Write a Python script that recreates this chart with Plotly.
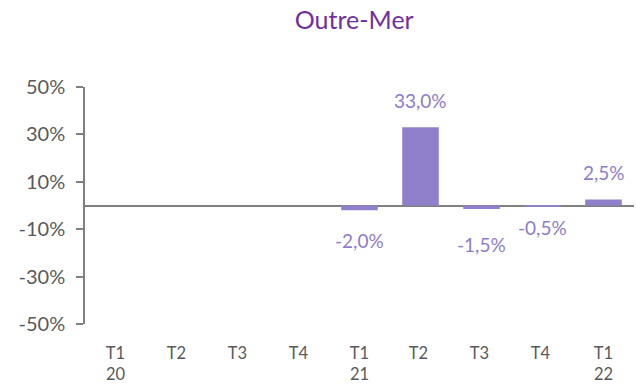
import plotly.graph_objects as go

# Quarterly change, Outre-Mer
quarters = ["T1<br>20", "T2", "T3", "T4", "T1<br>21", "T2 ", "T3 ", "T4 ", "T1<br>22"]
values = [None, None, None, None, -2.0, 33.0, -1.5, -0.5, 2.5]
y_ticks = [50, 30, 10, -10, -30, -50]

bar_color = "#9080CC"
label_color = "#8E7CCB"
axis_gray = "#808080"
text_gray = "#595959"
font_family = "Lato, 'Open Sans', sans-serif"

# vertical nudge (px) of the negative value labels
neg_label_shift = {4: -30, 6: -35, 7: -21}

fig = go.Figure(
    go.Bar(
        x=quarters,
        y=values,
        marker=dict(color=bar_color, line=dict(width=0)),
        width=0.6,
        hoverinfo="skip",
    )
)

# value labels, French decimal comma
for i, (q, v) in enumerate(zip(quarters, values)):
    if v is None:
        continue
    txt = f"{v:.1f}".replace(".", ",") + "%"
    fig.add_annotation(
        x=q, y=v, text=txt, showarrow=False,
        yshift=27 if v >= 0 else neg_label_shift.get(i, -30),
        font=dict(family=font_family, size=19, color=label_color),
    )

fig.update_layout(
    width=636, height=385,
    margin=dict(l=85, r=2, t=87, b=61),
    paper_bgcolor="white", plot_bgcolor="white",
    showlegend=False,
    bargap=0.4,
    title=dict(
        text="Outre-Mer", x=0.557, xanchor="center", y=0.948, yanchor="middle",
        font=dict(family=font_family, size=25, color="#7030A0"),
    ),
    font=dict(family=font_family, size=17, color=text_gray),
)

fig.update_xaxes(
    type="category", categoryorder="array", categoryarray=quarters,
    showline=False, showgrid=False, zeroline=False, ticks="",
    ticklabelstandoff=17, automargin=False,
    tickfont=dict(family=font_family, size=16.5, color=text_gray),
)

fig.update_yaxes(
    range=[-50, 50], tickvals=y_ticks,
    ticktext=[f"{t}%" for t in y_ticks],
    showgrid=False, showline=True, linecolor=axis_gray, linewidth=1.5,
    ticks="outside", ticklen=7, tickcolor=axis_gray, tickwidth=1.5,
    zeroline=True, zerolinecolor=axis_gray, zerolinewidth=2,
    ticklabelstandoff=7, automargin=False,
    tickfont=dict(family=font_family, size=20, color=text_gray),
)

fig.write_html("out.html")
